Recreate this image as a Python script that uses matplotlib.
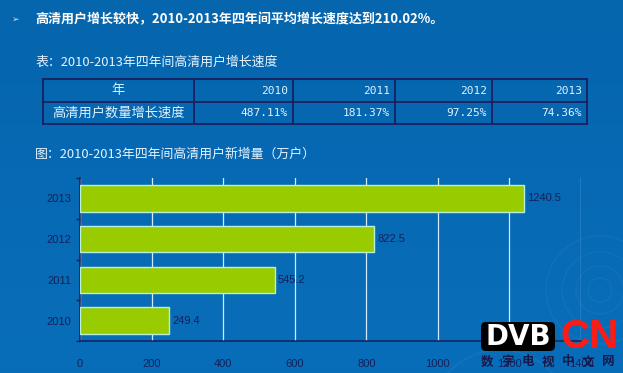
import numpy as np
import matplotlib
matplotlib.use("Agg")
import matplotlib.pyplot as plt
from matplotlib.patches import FancyBboxPatch, Circle

# ---- data ----
years = ["2010", "2011", "2012", "2013"]
new_users = [249.4, 545.2, 822.5, 1240.5]          # 万户
growth_rates = ["487.11%", "181.37%", "97.25%", "74.36%"]
row_header = "年"
row_label = "高清用户数量增长速度"
x_ticks = [0, 200, 400, 600, 800, 1000, 1200, 1400]

title_text = "高清用户增长较快，2010-2013年四年间平均增长速度达到210.02%。"
table_title = "表：2010-2013年四年间高清用户增长速度"
chart_title = "图：2010-2013年四年间高清用户新增量（万户）"

CJK = ["Noto Sans CJK SC", "DejaVu Sans"]
W, H = 623, 373
fig = plt.figure(figsize=(W / 100, H / 100), dpi=100)

# ---- background ----
bg = fig.add_axes([0, 0, 1, 1], zorder=0)
bg.set_xlim(0, W)
bg.set_ylim(H, 0)
bg.axis("off")
top = np.array([0x05, 0x65, 0xAD]) / 255
bot = np.array([0x09, 0x6E, 0xBA]) / 255
t = np.linspace(0, 1, 200)[:, None, None]
grad = top * (1 - t) + bot * t
grad = np.repeat(grad, 2, axis=1)
bg.imshow(grad, extent=(0, W, H, 0), aspect="auto", zorder=0)
for r in (12, 24, 38, 54):
    bg.add_patch(Circle((600, 290), r, fill=False, ec="white", lw=1.2, alpha=0.04, zorder=1))
for r in (40, 70):
    bg.add_patch(Circle((500, 420), r, fill=False, ec="white", lw=1.5, alpha=0.04, zorder=1))

# title
bg.text(12, 19, "➢", color="#bfe6ff", fontsize=6.5, ha="left", va="center",
        family=["DejaVu Sans"])
bg.text(35, 19, title_text, color="white", fontsize=9.4, fontweight="bold",
        ha="left", va="center", family=CJK)
bg.text(35, 62, table_title, color="#e6f4ff", fontsize=9.3, ha="left",
        va="center", family=CJK)
bg.text(35, 154, chart_title, color="#e6f4ff", fontsize=9.3, ha="left",
        va="center", family=CJK)

# ---- table ----
col_edges = [43, 194, 293, 395, 492, 587]
row_edges = [79, 102, 124]
line_c = "#1b1f5e"
for x in col_edges:
    bg.plot([x, x], [row_edges[0], row_edges[-1]], color=line_c, lw=1.3, zorder=3)
for y in row_edges:
    bg.plot([col_edges[0], col_edges[-1]], [y, y], color=line_c, lw=1.3, zorder=3)
txt_c = "#dff2ff"
r1 = (row_edges[0] + row_edges[1]) / 2
r2 = (row_edges[1] + row_edges[2]) / 2
bg.text((col_edges[0] + col_edges[1]) / 2, r1, row_header, color=txt_c,
        fontsize=9.5, ha="center", va="center", family=CJK)
bg.text((col_edges[0] + col_edges[1]) / 2, r2, row_label, color=txt_c,
        fontsize=9.5, ha="center", va="center", family=CJK)
for i, (yr, g) in enumerate(zip(years, growth_rates)):
    xr = col_edges[i + 2] - 5
    bg.text(xr, r1, yr, color=txt_c, fontsize=8, ha="right", va="center",
            family=["DejaVu Sans Mono"])
    bg.text(xr, r2, g, color=txt_c, fontsize=8, ha="right", va="center",
            family=["DejaVu Sans Mono"])

# ---- bar chart ----
ax = fig.add_axes([80 / W, 1 - 341 / H, 501 / W, 163 / H], zorder=2)
ax.patch.set_alpha(0)
pos = np.arange(len(years))
ax.barh(pos, new_users, height=0.65, color="#99CC00", edgecolor="#b6f0d8",
        linewidth=1.0, zorder=3)
dark = "#14205a"
for p, v in zip(pos, new_users):
    ax.text(v + 8, p, f"{v}", color=dark, fontsize=8, ha="left", va="center",
            family=["Liberation Sans"], zorder=4)
ax.set_xlim(0, 1400)
ax.set_ylim(-0.5, 3.5)
ax.set_xticks(x_ticks)
ax.set_xticklabels([str(v) for v in x_ticks], family="Liberation Sans",
                   fontsize=8, color=dark)
ax.set_yticks(pos)
ax.set_yticklabels(years, family="Liberation Sans", fontsize=8, color=dark)
ax.set_yticks([-0.5, 0.5, 1.5, 2.5, 3.5], minor=True)
ax.tick_params(axis="x", which="both", length=0, pad=13, top=False)
ax.tick_params(axis="y", which="major", length=0, pad=6, right=False)
ax.tick_params(axis="y", which="minor", length=3, width=1, color=dark,
               direction="out", right=False)
ax.grid(axis="x", which="major", color="#d2eaff", lw=0.9, zorder=1)
ax.grid(axis="y", visible=False)
ax.set_axisbelow(True)
for s in ("top", "right"):
    ax.spines[s].set_visible(False)
for s in ("left", "bottom"):
    ax.spines[s].set_color(dark)
    ax.spines[s].set_linewidth(1.1)

# ---- watermark logo ----
ov = fig.add_axes([0, 0, 1, 1], zorder=5)
ov.set_xlim(0, W)
ov.set_ylim(H, 0)
ov.axis("off")
ov.add_patch(FancyBboxPatch((481, 322), 74, 29, boxstyle="round,pad=0,rounding_size=5",
                            fc="black", ec="none"))
ov.text(518, 337, "DVB", color="white", fontsize=20, fontweight="bold",
        ha="center", va="center", family=["DejaVu Sans"])
ov.text(589, 337, "CN", color="#ff1a14", fontsize=29, fontweight="bold",
        ha="center", va="center", family=["Liberation Sans"])
logo_chars = "数字电视中文网"
for k, ch in enumerate(logo_chars):
    ov.text(487 + k * 20.2, 362, ch, color="#18184a", fontsize=9, fontweight="bold",
            ha="center", va="center", family=CJK)

fig.savefig("out.png", dpi=100)
